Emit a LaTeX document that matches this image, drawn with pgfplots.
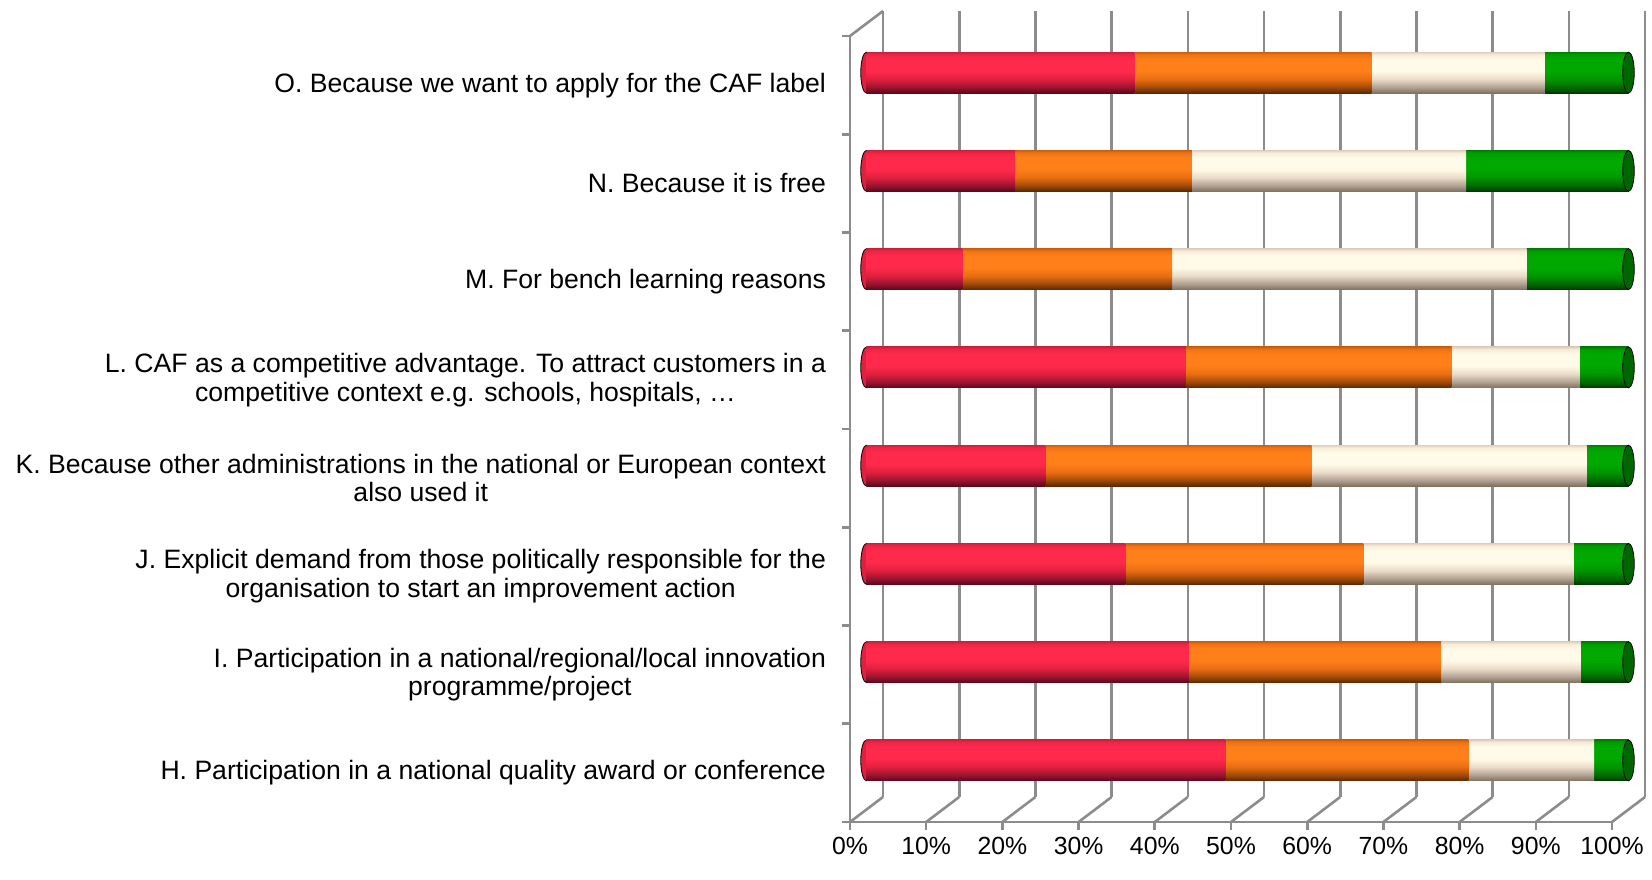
\documentclass[border=0pt]{standalone}
\usepackage{fontspec}
\setmainfont{Liberation Sans}
\usepackage{pgfplots}
\pgfplotsset{compat=1.18}

\definecolor{gridc}{HTML}{8C8C8C}
\definecolor{rA}{HTML}{5A0818}\definecolor{rB}{HTML}{9A1430}\definecolor{rC}{HTML}{E0203F}
\definecolor{rD}{HTML}{FF2A4B}\definecolor{rE}{HTML}{F02646}\definecolor{rF}{HTML}{D0203E}
\definecolor{oA}{HTML}{5A2800}\definecolor{oB}{HTML}{A04A08}\definecolor{oC}{HTML}{E86E12}
\definecolor{oD}{HTML}{FF7F1A}\definecolor{oE}{HTML}{F07414}\definecolor{oF}{HTML}{D0600C}
\definecolor{cA}{HTML}{807060}\definecolor{cB}{HTML}{B0A090}\definecolor{cC}{HTML}{EADCC8}
\definecolor{cD}{HTML}{FFFBE8}\definecolor{cE}{HTML}{F8ECD8}\definecolor{cF}{HTML}{E0D0C0}
\definecolor{gA}{HTML}{003800}\definecolor{gB}{HTML}{006A00}\definecolor{gC}{HTML}{009600}
\definecolor{gD}{HTML}{00A800}\definecolor{gE}{HTML}{009E00}\definecolor{gF}{HTML}{008000}
\definecolor{capred}{HTML}{E0203F}
\definecolor{capgreen}{HTML}{006600}

\pgfdeclareverticalshading{redcyl}{100bp}{color(0bp)=(rA); color(25bp)=(rA); color(32bp)=(rB); color(42bp)=(rC); color(52bp)=(rD); color(66bp)=(rD); color(72bp)=(rE); color(75bp)=(rF); color(100bp)=(rF)}
\pgfdeclareverticalshading{orangecyl}{100bp}{color(0bp)=(oA); color(25bp)=(oA); color(32bp)=(oB); color(42bp)=(oC); color(52bp)=(oD); color(66bp)=(oD); color(72bp)=(oE); color(75bp)=(oF); color(100bp)=(oF)}
\pgfdeclareverticalshading{creamcyl}{100bp}{color(0bp)=(cA); color(25bp)=(cA); color(32bp)=(cB); color(42bp)=(cC); color(52bp)=(cD); color(66bp)=(cD); color(72bp)=(cE); color(75bp)=(cF); color(100bp)=(cF)}
\pgfdeclareverticalshading{greencyl}{100bp}{color(0bp)=(gA); color(25bp)=(gA); color(32bp)=(gB); color(42bp)=(gC); color(52bp)=(gD); color(66bp)=(gD); color(72bp)=(gE); color(75bp)=(gF); color(100bp)=(gF)}

\pgfplotsset{
  base/.style={width=381pt,height=393pt,scale only axis,xmin=0,xmax=100,ymin=0.5,ymax=8.5,anchor=south west},
  mid/.style={base, at={(8.25pt,6.25pt)}, hide axis, clip=false},
}

% one cylinder bar: y, red, orange, cream, green
\newcommand\cylrow[5]{%
\begin{axis}[mid, xbar stacked, bar width=20.5pt]
\addplot[draw=none, shade, shading=redcyl] coordinates {(#2,#1)};
\addplot[draw=none, shade, shading=orangecyl] coordinates {(#3,#1)};
\addplot[draw=none, shade, shading=creamcyl] coordinates {(#4,#1)};
\addplot[draw=none, shade, shading=greencyl] coordinates {(#5,#1)};
\end{axis}}

\begin{document}
\begin{tikzpicture}
\path[use as bounding box] (-425pt,-28.5pt) rectangle (401pt,411pt);

% back wall gridlines
\begin{axis}[base, at={(16.5pt,12.5pt)},
  xtick={0,10,...,100}, xticklabels={}, ytick=\empty,
  xmajorgrids, grid style={gridc, line width=1.3pt},
  axis line style={draw=none}, major tick length=0pt]
\end{axis}

% front: floor, left wall, labels
\begin{axis}[base, at={(0pt,0pt)}, clip=false,
  axis x line*=bottom, axis y line*=left,
  axis line style={gridc, line width=1.3pt, -},
  tick style={gridc, line width=1.3pt},
  tick align=outside, major tick length=4pt,
  xtick={0,10,...,100},
  xticklabel={\pgfmathprintnumber{\tick}\%},
  /pgf/number format/assume math mode=true,
  xticklabel style={font=\fontsize{12.4}{14}\selectfont, text=black},
  ytick={0.5,1.5,...,8.5}, yticklabels={},
  extra y ticks={1,2,3,4,5,6,7,8},
  extra y tick labels={
    {H. Participation in a national quality award or conference},
    {I. Participation in a national/regional/local innovation\\programme/project},
    {J. Explicit demand from those politically responsible for the\\organisation to start an improvement action},
    {K. Because other administrations in the national or European context\\also used it},
    {L. CAF as a competitive advantage. To attract customers in a\\competitive context e.g. schools, hospitals, …},
    {M. For bench learning reasons},
    {N. Because it is free},
    {O. Because we want to apply for the CAF label}},
  extra y tick style={major tick length=0pt,
    yticklabel style={font=\fontsize{13.3}{14.3}\selectfont, align=center, anchor=east, xshift=-8.5pt, text=black}},
]
\pgfplotsinvokeforeach{0,10,...,100}{\draw[gridc, line width=1.3pt] (axis cs:#1,0.5) -- ++(16.5pt,12.5pt);}
\draw[gridc, line width=1.3pt] (axis cs:0,8.5) -- ++(16.5pt,12.5pt);
\end{axis}

% left caps
\begin{axis}[mid]
\addplot[only marks, mark=*, mark size=10.25pt, mark options={xscale=0.28, fill=capred, draw=none}]
  coordinates {(0,1) (0,2) (0,3) (0,4) (0,5) (0,6) (0,7) (0,8)};
\end{axis}

% bars (values in percent: red, orange, cream, green)
\cylrow{1}{47.1}{31.9}{16.5}{4.5}
\cylrow{2}{42.3}{33.1}{18.3}{6.3}
\cylrow{3}{34.0}{31.2}{27.6}{7.2}
\cylrow{4}{23.5}{34.9}{36.1}{5.5}
\cylrow{5}{41.9}{34.9}{16.8}{6.4}
\cylrow{6}{12.6}{27.5}{46.5}{13.4}
\cylrow{7}{19.5}{23.2}{36.0}{21.3}
\cylrow{8}{35.2}{31.1}{22.7}{11.0}

% right caps
\begin{axis}[mid]
\addplot[only marks, mark=*, mark size=10.25pt, mark options={xscale=0.28, fill=capgreen, draw=none}]
  coordinates {(100,1) (100,2) (100,3) (100,4) (100,5) (100,6) (100,7) (100,8)};
\end{axis}
\end{tikzpicture}
\end{document}
